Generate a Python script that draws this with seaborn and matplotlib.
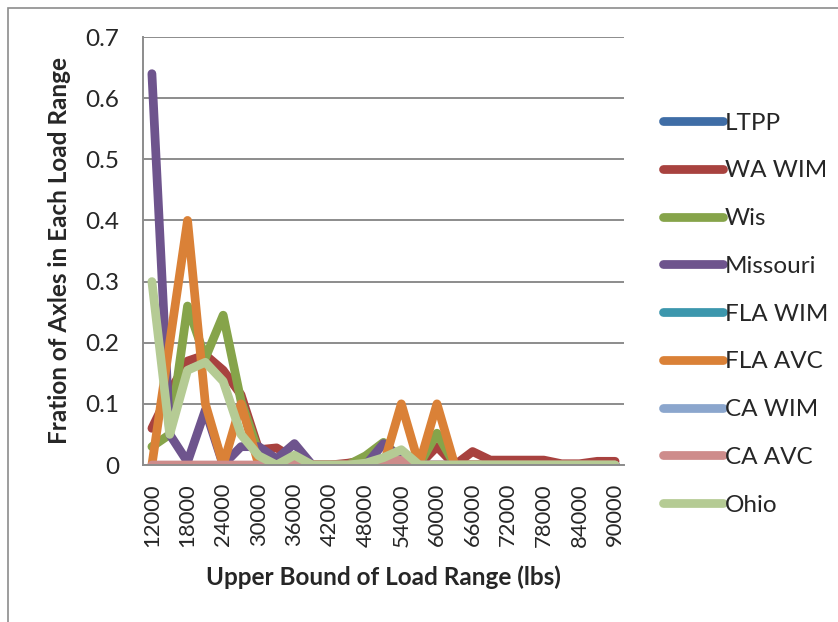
import numpy as np
import pandas as pd
import seaborn as sns
import matplotlib.pyplot as plt
from matplotlib.patches import Rectangle

# Load bins (upper bound, lbs)
load_bins = list(range(12000, 90001, 3000))
tick_labels = [str(v) for v in range(12000, 90001, 6000)]

ltpp     = [0.0] * 27
wa_wim   = [0.06, 0.12, 0.17, 0.18, 0.155, 0.115, 0.025, 0.028, 0.01, 0.0, 0.0, 0.003, 0.008, 0.01,
            0.01, 0.0, 0.03, 0.0, 0.022, 0.008, 0.008, 0.008, 0.008, 0.002, 0.002, 0.006, 0.006]
wis      = [0.03, 0.05, 0.26, 0.175, 0.245, 0.105, 0.02, 0.0, 0.0, 0.0, 0.0, 0.0, 0.015, 0.037,
            0.01, 0.0, 0.052, 0.0, 0.0, 0.0, 0.0, 0.0, 0.0, 0.0, 0.0, 0.0, 0.0]
missouri = [0.64, 0.05, 0.005, 0.09, 0.0, 0.03, 0.03, 0.01, 0.035, 0.0, 0.0, 0.0, 0.0, 0.035,
            0.01, 0.0, 0.0, 0.0, 0.0, 0.0, 0.0, 0.0, 0.0, 0.0, 0.0, 0.0, 0.0]
fla_wim  = [0.0] * 27
fla_avc  = [0.0, 0.2, 0.4, 0.1, 0.0, 0.1, 0.0, 0.0, 0.0, 0.0, 0.0, 0.0, 0.0, 0.0,
            0.1, 0.0, 0.1, 0.0, 0.0, 0.0, 0.0, 0.0, 0.0, 0.0, 0.0, 0.0, 0.0]
ca_wim   = [0.0] * 27
ca_avc   = [0.0, 0.0, 0.0, 0.0, 0.0, 0.0, 0.0, 0.0, 0.005, 0.0, 0.0, 0.0, 0.0, 0.008,
            0.008, 0.0, 0.0, 0.0, 0.0, 0.0, 0.0, 0.0, 0.0, 0.0, 0.0, 0.0, 0.0]
ohio     = [0.3, 0.05, 0.155, 0.168, 0.137, 0.05, 0.015, 0.0, 0.016, 0.0, 0.0, 0.0, 0.003, 0.012,
            0.025, 0.0, 0.0, 0.0, 0.0, 0.0, 0.0, 0.0, 0.0, 0.0, 0.0, 0.0, 0.0]

series_names = ["LTPP", "WA WIM", "Wis", "Missouri", "FLA WIM", "FLA AVC", "CA WIM", "CA AVC", "Ohio"]
series_values = [ltpp, wa_wim, wis, missouri, fla_wim, fla_avc, ca_wim, ca_avc, ohio]
colors = ["#3F6DA6", "#A8423F", "#86A44A", "#6E548D", "#3C97AD",
          "#DA8137", "#8BA6CD", "#CE8C8B", "#B5CB94"]

df = pd.DataFrame(
    [(load, val, name) for name, vals in zip(series_names, series_values)
     for load, val in zip(load_bins, vals)],
    columns=["load", "fraction", "source"],
)

sns.set_theme(style="white")
plt.rcParams["font.family"] = ["Lato", "DejaVu Sans"]

fig = plt.figure(figsize=(8.38, 6.22), dpi=100)
ax = fig.add_axes([143 / 838, 1 - 465 / 622, (624 - 143) / 838, (465 - 37) / 622])

# outer chart-area frame
fig.patches.append(Rectangle((8 / 838, -0.05), 1.2, 1 - 8 / 622 + 0.05,
                             transform=fig.transFigure, fill=False,
                             edgecolor="#8c8c8c", linewidth=1.2, zorder=0))

sns.lineplot(data=df, x="load", y="fraction", hue="source", hue_order=series_names,
             palette=dict(zip(series_names, colors)), sort=False, linewidth=6.3,
             solid_capstyle="round", solid_joinstyle="round", ax=ax, legend=False)

ax.set_xlim(10500, 91500)
ax.set_ylim(0, 0.7)
ax.set_yticks(np.arange(0, 0.71, 0.1))
ax.set_yticklabels(["0", "0.1", "0.2", "0.3", "0.4", "0.5", "0.6", "0.7"], fontsize=17.5)
ax.set_xticks(range(12000, 90001, 6000))
ax.set_xticklabels(tick_labels, rotation=90, fontsize=15.8)
ax.set_xticks(np.arange(10500, 91501, 3000), minor=True)
ax.tick_params(axis="x", which="major", length=0, pad=13)
ax.tick_params(axis="x", which="minor", length=6, width=1.3, color="#8c8c8c", direction="out")
ax.tick_params(axis="y", which="major", length=6, width=1.3, color="#8c8c8c",
               direction="out", pad=11)

ax.grid(axis="y", color="#8c8c8c", linewidth=1.4)
ax.set_axisbelow(True)
for side in ["top", "right"]:
    ax.spines[side].set_visible(False)
for side in ["left", "bottom"]:
    ax.spines[side].set_color("#8c8c8c")
    ax.spines[side].set_linewidth(1.4)

ax.set_xlabel("Upper Bound of Load Range (lbs)", fontsize=17.5, fontweight="bold")
ax.set_ylabel("Fration of Axles in Each Load Range", fontsize=17.5, fontweight="bold")
ax.xaxis.label.set(va="center", ha="center")
ax.yaxis.label.set(va="center", ha="center", rotation_mode="anchor")
ax.xaxis.set_label_coords(0.5, -(577 - 465) / 428)
ax.yaxis.set_label_coords((60 - 143) / 481, 0.5)

handles = [plt.Line2D([], [], color=c, linewidth=6.3, solid_capstyle="round") for c in colors]
leg = fig.legend(handles, series_names, loc="upper left",
                 bbox_to_anchor=(663 / 838, 1 - 112.5 / 622), frameon=False,
                 fontsize=17.5, handlelength=2.45, handletextpad=0.1,
                 labelspacing=1.1, borderpad=0, borderaxespad=0)

fig.savefig("out.png", dpi=100)
